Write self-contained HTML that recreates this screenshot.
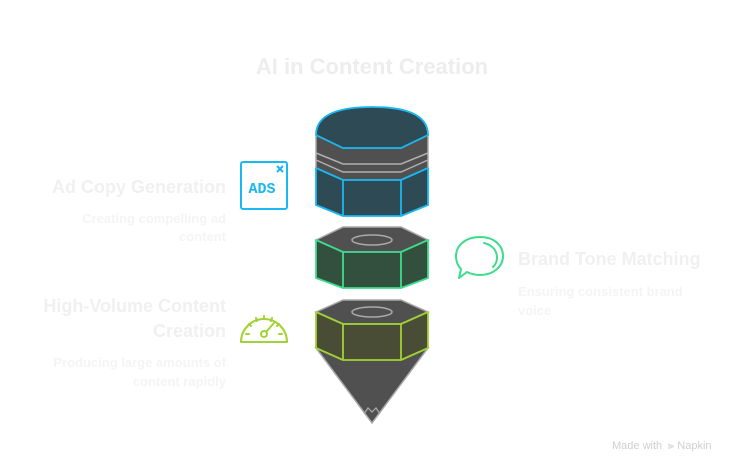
<!DOCTYPE html>
<html><head><meta charset="utf-8"><style>
html,body{margin:0;padding:0;background:#fff;}
svg{display:block;}
text{font-family:"Liberation Sans",Arial,sans-serif;}
</style></head><body>
<svg width="744" height="473" viewBox="0 0 744 473" xmlns="http://www.w3.org/2000/svg">
<text x="372" y="74" text-anchor="middle" font-size="22" font-weight="bold" fill="#ededed">AI in Content Creation</text>

<!-- left texts -->
<g text-anchor="end">
<text x="226" y="193" font-size="18" font-weight="bold" fill="#f0f0f0">Ad Copy Generation</text>
<text x="226" y="223" font-size="13" font-weight="bold" fill="#f4f4f4">Creating compelling ad</text>
<text x="226" y="241" font-size="13" font-weight="bold" fill="#f4f4f4">content</text>
<text x="226" y="312" font-size="18" font-weight="bold" fill="#f0f0f0">High-Volume Content</text>
<text x="226" y="337" font-size="18" font-weight="bold" fill="#f0f0f0">Creation</text>
<text x="226" y="367" font-size="13" font-weight="bold" fill="#f4f4f4">Producing large amounts of</text>
<text x="226" y="386" font-size="13" font-weight="bold" fill="#f4f4f4">content rapidly</text>
</g>
<text x="518" y="265" font-size="18" font-weight="bold" fill="#f0f0f0">Brand Tone Matching</text>
<text x="518" y="296" font-size="13" font-weight="bold" fill="#f4f4f4">Ensuring consistent brand</text>
<text x="518" y="315" font-size="13" font-weight="bold" fill="#f4f4f4">voice</text>

<text x="612" y="449" font-size="11" fill="#cfcfcf">Made with</text>
<text x="668" y="449" font-size="11" fill="#cfcfcf">⫸ Napkin</text>

<!-- top cap -->
<path d="M316,135 Q316,107 372,107 Q428,107 428,135 L428,168 L316,168 Z" fill="#2e4a55"/>
<path d="M316,135 L343,148 L401,148 L428,135 L428,168 L401,180 L343,180 L316,168 Z" fill="#505050" stroke="#aaa" stroke-width="1.5"/>
<path d="M316,153 L343,164 L401,164 L428,153 M316,160 L343,172 L401,172 L428,160" fill="none" stroke="#b0b0b0" stroke-width="1.5"/>
<path d="M316,135 Q316,107 372,107 Q428,107 428,135 L401,148 L343,148 Z" fill="#2e4a55" stroke="#1ab8f0" stroke-width="1.8"/>
<path d="M316,168 L343,180 L401,180 L428,168 L428,205 L401,216 L343,216 L316,205 Z" fill="#2e4a55" stroke="#1ab8f0" stroke-width="1.8" stroke-linejoin="round"/>
<path d="M343,180 L343,216 M401,180 L401,216" stroke="#1ab8f0" stroke-width="1.8"/>

<!-- middle nut -->
<path d="M316,240 L343,227 L401,227 L428,240 L401,252 L343,252 Z" fill="#505050" stroke="#aaa" stroke-width="1.5"/>
<ellipse cx="372" cy="240" rx="20" ry="5" fill="none" stroke="#aaa" stroke-width="1.5"/>
<path d="M316,240 L343,252 L401,252 L428,240 L428,278 L401,288 L343,288 L316,278 Z" fill="#33503f" stroke="#3ddc8c" stroke-width="1.8" stroke-linejoin="round"/>
<path d="M343,252 L343,288 M401,252 L401,288" stroke="#3ddc8c" stroke-width="1.8"/>

<!-- bottom nut + cone -->
<path d="M316,348 L372,423 L428,348 Z" fill="#505050" stroke="#aaa" stroke-width="1.5"/>
<path d="M364,414 L368,408 L372,412 L376,408 L380,414" fill="none" stroke="#aaa" stroke-width="1.2"/>
<path d="M316,312 L343,300 L401,300 L428,312 L401,324 L343,324 Z" fill="#505050" stroke="#aaa" stroke-width="1.5"/>
<ellipse cx="372" cy="312" rx="20" ry="5" fill="none" stroke="#aaa" stroke-width="1.5"/>
<path d="M316,312 L343,324 L401,324 L428,312 L428,348 L401,360 L343,360 L316,348 Z" fill="#4a4d35" stroke="#a2d233" stroke-width="1.8" stroke-linejoin="round"/>
<path d="M343,324 L343,360 M401,324 L401,360" stroke="#a2d233" stroke-width="1.8"/>

<!-- ADS icon -->
<rect x="241" y="162" width="46" height="47" rx="2" fill="none" stroke="#1ab8f0" stroke-width="2"/>
<text x="262" y="193" text-anchor="middle" font-size="15" font-weight="bold" fill="#1ab8f0" style="font-family:'Liberation Mono',monospace">ADS</text>
<path d="M277,166 L283,172 M283,166 L277,172" stroke="#1ab8f0" stroke-width="2"/>

<!-- gauge icon -->
<g fill="none" stroke="#a2d233" stroke-width="2" stroke-linecap="round">
<path d="M241,342 A23,23 0 0 1 287,342 Z" stroke-linejoin="round"/>
<path d="M246,334 L249,334 M249,324 L251,326 M256,318 L257,321 M264,316 L264,319 M272,318 L271,321 M279,324 L277,326 M282,334 L279,334"/>
<circle cx="264" cy="334" r="3"/>
<path d="M266,332 L274,323"/>
</g>

<!-- speech bubble -->
<g fill="none" stroke="#3ddc8c" stroke-width="2" stroke-linecap="round" stroke-linejoin="round">
<path d="M480,237 C495,237 503,246 503,256 C503,267 493,275 480,275 C475,275 471,274 467,272 L459,278 L461,269 C457,265 456,261 456,256 C456,246 465,237 480,237 Z"/>
<path d="M484,243 C492,245 497,250 497,258 C497,262 495,265 493,267"/>
</g>
</svg>
</body></html>
